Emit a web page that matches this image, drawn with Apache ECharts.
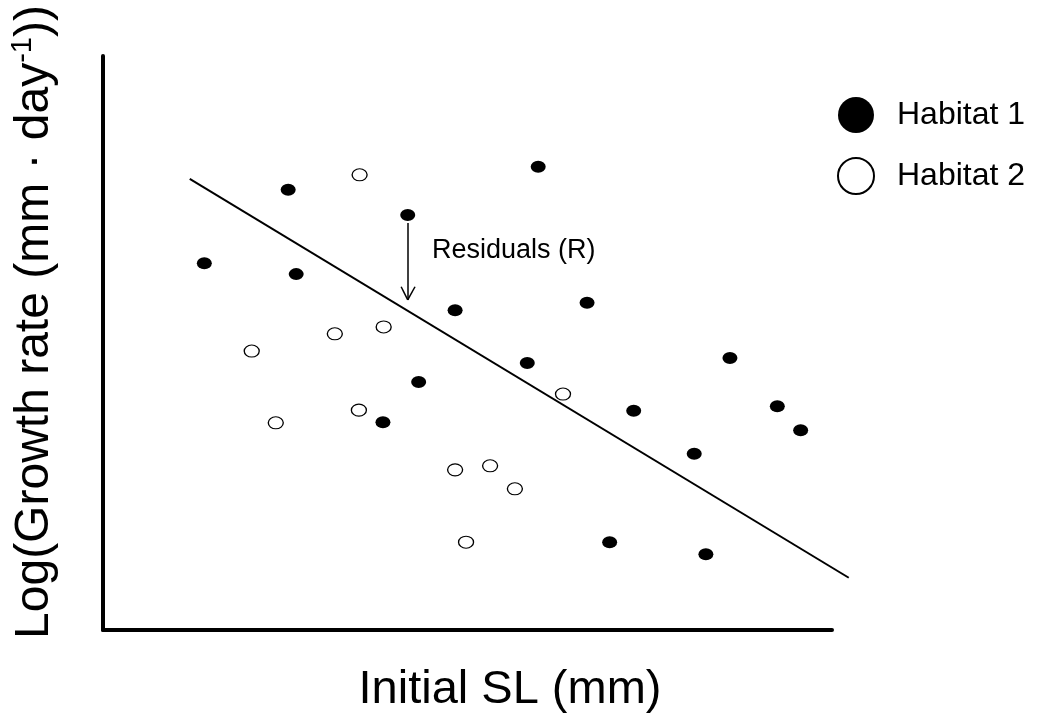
<!DOCTYPE html>
<html>
<head>
<meta charset="utf-8">
<script src="https://cdn.jsdelivr.net/npm/echarts@6/dist/echarts.min.js"></script>
<style>
html, body { margin: 0; padding: 0; background: #fff; }
#chart { width: 1052px; height: 717px; }
</style>
</head>
<body>
<div id="chart"></div>
<script>
// values (axes have no scale, so 0-100 on both)
var hab1X = [13.9, 25.4, 26.5, 41.8, 43.3, 38.4, 48.3, 59.7, 58.2, 66.4, 72.8, 69.5, 81.1, 82.7, 86.0, 92.5, 95.7];
var hab1Y = [63.9, 76.7, 62.0, 72.3, 43.2, 36.2, 55.7, 80.7, 46.5, 57.0, 38.2, 15.3, 30.7, 13.2, 47.4, 39.0, 34.8];
var hab2X = [35.2, 20.4, 31.8, 38.5, 23.7, 35.1, 48.3, 53.1, 56.5, 49.8, 63.1];
var hab2Y = [79.3, 48.6, 51.6, 52.8, 36.1, 38.3, 27.9, 28.6, 24.6, 15.3, 41.1];
// fitted line runs a little past the end of the drawn x axis
var fitX = [11.9, 102.3];
var fitY = [78.6, 9.1];
// residual arrow: shaft top, tip, head sides
var arrowX = [41.8, 41.8, 40.9, 42.8];
var arrowY = [70.9, 57.5, 59.8, 59.8];

var seriesNames = ['Habitat 1', 'Habitat 2'];
var font = "'Liberation Sans', Arial, sans-serif";

function pairs(xs, ys) {
    var out = [];
    for (var i = 0; i < xs.length; i++) out.push([xs[i], ys[i]]);
    return out;
}

// frame grid draws the axes, data grid is a bit wider so the fit line is not clipped
var W = 1052, left = 103, frameRight = 220, dataRight = 200;
var frameW = W - left - frameRight, dataW = W - left - dataRight;
var dataXMax = 100 * dataW / frameW;

var chart = echarts.init(document.getElementById('chart'));

var hidden = { axisLine: { show: false }, axisTick: { show: false }, axisLabel: { show: false }, splitLine: { show: false } };
var frameLine = { show: true, onZero: false, lineStyle: { color: '#000', width: 4 } };

var option = {
    animation: false,
    backgroundColor: '#fff',
    grid: [
        { left: left, right: frameRight, top: 56, bottom: 87, outerBoundsMode: 'none' },
        { left: left, right: dataRight, top: 56, bottom: 87, outerBoundsMode: 'none' }
    ],
    xAxis: [
        echarts.util.extend({ gridIndex: 0, type: 'value', min: 0, max: 100 }, echarts.util.extend(echarts.util.clone(hidden), { axisLine: frameLine })),
        echarts.util.extend({ gridIndex: 1, type: 'value', min: 0, max: dataXMax }, echarts.util.clone(hidden))
    ],
    yAxis: [
        echarts.util.extend({ gridIndex: 0, type: 'value', min: 0, max: 100 }, echarts.util.extend(echarts.util.clone(hidden), { axisLine: frameLine })),
        echarts.util.extend({ gridIndex: 1, type: 'value', min: 0, max: 100 }, echarts.util.clone(hidden))
    ],
    legend: {
        data: seriesNames,
        orient: 'vertical', left: 832, top: 92,
        icon: 'circle', itemWidth: 36, itemHeight: 36, itemGap: 24,
        textStyle: { color: '#000', fontSize: 32, fontFamily: font, padding: [0, 0, 0, 18] }
    },
    graphic: [
        {
            type: 'text', x: 35, y: 322, rotation: Math.PI / 2,
            style: {
                text: '{n|Log(Growth rate (mm · day}{s|-1}{n|))}',
                textAlign: 'center', textVerticalAlign: 'middle',
                rich: {
                    n: { fontSize: 48, fontFamily: font, fill: '#000', lineHeight: 54 },
                    s: { fontSize: 29, fontFamily: font, fill: '#000', verticalAlign: 'top', lineHeight: 54, padding: [0, 0, 21, 0] }
                }
            }
        },
        {
            type: 'text', x: 510, y: 690,
            style: {
                text: 'Initial SL (mm)', fontSize: 47, fontFamily: font, fill: '#000',
                textAlign: 'center', textVerticalAlign: 'middle'
            }
        },
        {
            type: 'text', x: 432, y: 251,
            style: {
                text: 'Residuals (R)', fontSize: 27, fontFamily: font, fill: '#000',
                textVerticalAlign: 'middle'
            }
        }
    ],
    series: [
        {
            name: 'frame', type: 'scatter', xAxisIndex: 0, yAxisIndex: 0, data: [], silent: true
        },
        {
            name: 'Habitat 1', type: 'scatter', xAxisIndex: 1, yAxisIndex: 1, data: pairs(hab1X, hab1Y),
            symbol: 'circle', symbolSize: [15, 12],
            itemStyle: { color: '#000', opacity: 1 }
        },
        {
            name: 'Habitat 2', type: 'scatter', xAxisIndex: 1, yAxisIndex: 1, data: pairs(hab2X, hab2Y),
            symbol: 'circle', symbolSize: [15, 12],
            itemStyle: { color: '#fff', borderColor: '#000', borderWidth: 1.2, opacity: 1 }
        },
        {
            name: 'fit', type: 'line', xAxisIndex: 1, yAxisIndex: 1, data: pairs(fitX, fitY),
            showSymbol: false, silent: true,
            lineStyle: { color: '#000', width: 2 },
            markLine: {
                silent: true, symbol: 'none', label: { show: false },
                lineStyle: { color: '#000', width: 1.5, type: 'solid' },
                data: [
                    [{ coord: [arrowX[0], arrowY[0]] }, { coord: [arrowX[1], arrowY[1]] }],
                    [{ coord: [arrowX[2], arrowY[2]] }, { coord: [arrowX[1], arrowY[1]] }],
                    [{ coord: [arrowX[3], arrowY[3]] }, { coord: [arrowX[1], arrowY[1]] }]
                ]
            }
        }
    ]
};

chart.setOption(option);
</script>
</body>
</html>
